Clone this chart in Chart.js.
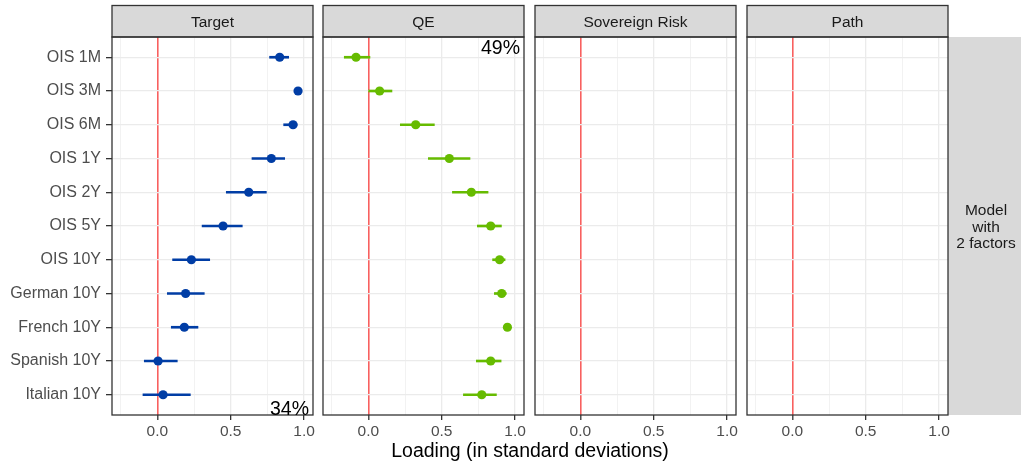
<!DOCTYPE html>
<html>
<head>
<meta charset="utf-8">
<script src="https://cdn.jsdelivr.net/npm/chart.js@4.4.1/dist/chart.umd.min.js"></script>
<style>
  html, body { margin:0; padding:0; background:#fff; }
  body { width:1021px; height:463px; position:relative; overflow:hidden; font-family:"Liberation Sans", Arial, sans-serif; }
  canvas { position:absolute; top:4px; }
  #xtitle { position:absolute; left:112px; width:836px; top:439px; text-align:center; font-size:19.5px; line-height:22px; color:#000; }
</style>
</head>
<body>
<canvas id="p0" width="328" height="441" style="left:0px"></canvas>
<canvas id="p1" width="231" height="441" style="left:308px"></canvas>
<canvas id="p2" width="231" height="441" style="left:520px"></canvas>
<canvas id="p3" width="289" height="441" style="left:732px"></canvas>
<div id="xtitle">Loading (in standard deviations)</div>
<script>
// ---- data ----
const categories = ['OIS 1M','OIS 3M','OIS 6M','OIS 1Y','OIS 2Y','OIS 5Y','OIS 10Y','German 10Y','French 10Y','Spanish 10Y','Italian 10Y'];
const facets = ['Target','QE','Sovereign Risk','Path'];
const targetEst  = [0.834, 0.959, 0.925, 0.777, 0.623, 0.448, 0.232, 0.193, 0.184, 0.005, 0.039];
const targetLow  = [0.765, 0.950, 0.861, 0.645, 0.470, 0.305, 0.104, 0.068, 0.095, -0.089, -0.098];
const targetHigh = [0.895, 0.968, 0.952, 0.868, 0.743, 0.579, 0.357, 0.320, 0.277, 0.136, 0.225];
const qeEst  = [-0.084, 0.077, 0.323, 0.552, 0.702, 0.834, 0.895, 0.909, 0.948, 0.834, 0.773];
const qeLow  = [-0.164, 0.002, 0.218, 0.409, 0.573, 0.743, 0.847, 0.859, 0.938, 0.736, 0.648];
const qeHigh = [0.011, 0.161, 0.450, 0.693, 0.816, 0.907, 0.932, 0.940, 0.958, 0.905, 0.873];
const majorTicks = [0, 0.5, 1.0];
const minorTicks = [-0.25, 0.25, 0.75];
const varianceShare = ['34%', '49%', '', ''];
const rowStripLabel = ['Model', 'with', '2 factors'];

const FONT = '"Liberation Sans", Arial, sans-serif';
Chart.defaults.font.family = FONT;
const RED = '#F8605F';
const BLUE = '#003DA5';
const GREEN = '#66BB00';

const panelDecor = {
  id: 'panelDecor',
  beforeDraw(chart, args, opts) {
    const {ctx, chartArea: a} = chart;
    ctx.save();
    ctx.fillStyle = '#D9D9D9';
    ctx.fillRect(a.left, 1.5, a.width, a.top - 1.5);
    if (opts.rowStrip) {
      ctx.fillRect(a.right, a.top, chart.width - a.right, a.height);
    }
    ctx.restore();
  },
  afterDraw(chart, args, opts) {
    const {ctx, chartArea: a} = chart;
    ctx.save();
    ctx.strokeStyle = '#333333';
    ctx.lineWidth = 1.3;
    ctx.strokeRect(a.left, 1.5, a.width, a.top - 1.5);
    ctx.strokeRect(a.left, a.top, a.width, a.height);
    ctx.fillStyle = '#1A1A1A';
    ctx.font = '15.5px ' + FONT;
    ctx.textAlign = 'center';
    ctx.textBaseline = 'middle';
    ctx.fillText(opts.title, (a.left + a.right) / 2, (1.5 + a.top) / 2 + 1.5);
    if (opts.rowStrip) {
      const cx = (a.right + chart.width + 3) / 2;
      const cy = (a.top + a.bottom) / 2 + 1.5;
      opts.rowStrip.forEach((t, k) => {
        ctx.fillText(t, cx, cy + (k - 1) * 16.7);
      });
    }
    if (opts.note) {
      ctx.fillStyle = '#000';
      ctx.font = '19.5px ' + FONT;
      ctx.textAlign = 'right';
      ctx.textBaseline = 'alphabetic';
      const y = opts.noteAt === 'top' ? a.top + 17 : a.bottom;
      ctx.fillText(opts.note, a.right - 4, y);
    }
    ctx.restore();
  }
};

function makePanel(idx, est, low, high, color, noteAt) {
  const first = idx === 0;
  const last = idx === facets.length - 1;
  const datasets = [];
  if (est) {
    datasets.push({
      type: 'scatter', data: est.map((v, i) => ({x: v, y: i})),
      backgroundColor: color, borderColor: color, borderWidth: 0,
      pointRadius: 4.6, pointHoverRadius: 4.6, order: 0
    });
    datasets.push({
      type: 'bar', indexAxis: 'y', data: low.map((l, i) => ({x: [l, high[i]], y: i})),
      backgroundColor: color, borderWidth: 0, barThickness: 2, grouped: false, order: 1
    });
  }
  const gridVals = minorTicks.concat(majorTicks).sort((a, b) => a - b);
  return new Chart(document.getElementById('p' + idx), {
    type: 'scatter',
    data: { datasets },
    plugins: [panelDecor],
    options: {
      responsive: false, animation: false, events: [],
      layout: { padding: { left: first ? 0 : 15, right: last ? 73 : 15, top: 33, bottom: 0 } },
      plugins: {
        legend: { display: false }, tooltip: { enabled: false },
        panelDecor: { title: facets[idx], note: varianceShare[idx], noteAt: noteAt, rowStrip: last ? rowStripLabel : null }
      },
      scales: {
        x: {
          type: 'linear', min: -0.309, max: 1.061, offset: false,
          afterBuildTicks: s => { s.ticks = gridVals.map(v => ({value: v})); },
          afterFit: s => { s.height = 30; },
          ticks: {
            autoSkip: false, maxRotation: 0, padding: 2, color: '#4D4D4D', font: { size: 15.5 },
            callback: v => majorTicks.includes(v) ? v.toFixed(1) : ''
          },
          grid: {
            offset: false,
            color: c => (c.tick && c.tick.value === 0) ? RED : '#EBEBEB',
            lineWidth: c => (c.tick && c.tick.value === 0) ? 1.6 : (c.tick && majorTicks.includes(c.tick.value) ? 1.3 : 0.65),
            tickLength: 5, tickWidth: 1.3,
            tickColor: c => (c.tick && majorTicks.includes(c.tick.value)) ? '#333333' : 'rgba(0,0,0,0)'
          },
          border: { display: false }
        },
        y: {
          type: 'linear', min: -0.6, max: 10.6, reverse: true, offset: false,
          afterBuildTicks: s => { s.ticks = categories.map((c, i) => ({value: i})); },
          afterFit: s => { s.width = first ? 112 : 0; },
          ticks: {
            display: first, autoSkip: false, padding: 5, color: '#4D4D4D', font: { size: 16 },
            callback: v => categories[v]
          },
          grid: { offset: false, color: '#EBEBEB', lineWidth: 1.3, drawTicks: first, tickLength: 6, tickWidth: 1.3, tickColor: '#333333' },
          border: { display: false }
        }
      }
    }
  });
}

makePanel(0, targetEst, targetLow, targetHigh, BLUE, 'bottom');
makePanel(1, qeEst, qeLow, qeHigh, GREEN, 'top');
makePanel(2, null, null, null, null, null);
makePanel(3, null, null, null, null, null);
</script>
</body>
</html>
